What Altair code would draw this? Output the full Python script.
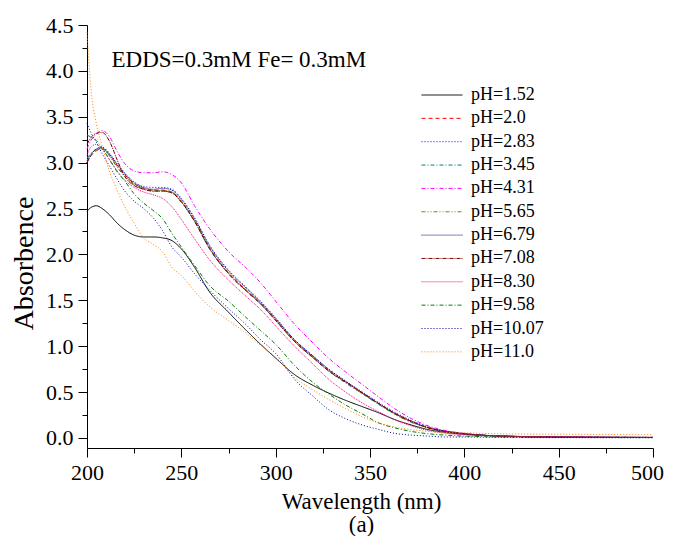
import altair as alt
import pandas as pd

FONT = "Liberation Serif, Times New Roman, serif"

wavelength = [200, 202, 205, 208, 212, 216, 220, 225, 230, 235, 240, 245, 250, 257, 265,
              275, 285, 292, 300, 310, 320, 328, 337, 346, 355, 363, 372, 381, 390, 400,
              420, 450, 500]

ph_labels = ["pH=1.52", "pH=2.0", "pH=2.83", "pH=3.45", "pH=4.31", "pH=5.65",
             "pH=6.79", "pH=7.08", "pH=8.30", "pH=9.58", "pH=10.07", "pH=11.0"]

ph152 = [2.47, 2.51, 2.53, 2.50, 2.43, 2.34, 2.27, 2.21, 2.19, 2.19, 2.18, 2.15, 2.06, 1.86, 1.59,
         1.37, 1.16, 1.02, 0.87, 0.69, 0.57, 0.49, 0.41, 0.34, 0.27, 0.20, 0.14, 0.09, 0.06, 0.04,
         0.02, 0.01, 0.005]
ph20 = [3.00, 3.07, 3.13, 3.15, 3.08, 2.97, 2.87, 2.77, 2.72, 2.70, 2.70, 2.68, 2.58, 2.37, 2.07,
        1.80, 1.60, 1.47, 1.29, 1.06, 0.88, 0.74, 0.61, 0.49, 0.37, 0.27, 0.18, 0.11, 0.07, 0.045,
        0.02, 0.01, 0.005]
ph283 = [3.00, 3.08, 3.15, 3.17, 3.10, 2.99, 2.89, 2.79, 2.74, 2.73, 2.73, 2.71, 2.61, 2.40, 2.10,
         1.83, 1.63, 1.49, 1.31, 1.07, 0.89, 0.75, 0.62, 0.50, 0.38, 0.28, 0.19, 0.12, 0.075, 0.045,
         0.02, 0.01, 0.005]
ph345 = [3.05, 3.10, 3.14, 3.15, 3.07, 2.95, 2.85, 2.76, 2.71, 2.69, 2.69, 2.67, 2.57, 2.36, 2.06,
         1.79, 1.59, 1.46, 1.28, 1.05, 0.87, 0.73, 0.60, 0.48, 0.36, 0.26, 0.17, 0.11, 0.07, 0.045,
         0.02, 0.01, 0.005]
ph431 = [3.15, 3.24, 3.31, 3.35, 3.28, 3.12, 2.99, 2.91, 2.89, 2.89, 2.90, 2.87, 2.78, 2.53, 2.28,
         2.03, 1.84, 1.69, 1.49, 1.24, 1.03, 0.87, 0.72, 0.58, 0.44, 0.32, 0.21, 0.13, 0.08, 0.05,
         0.02, 0.01, 0.005]
ph565 = [3.02, 3.09, 3.14, 3.15, 3.08, 2.96, 2.86, 2.77, 2.72, 2.70, 2.70, 2.68, 2.58, 2.37, 2.07,
         1.80, 1.60, 1.47, 1.29, 1.06, 0.88, 0.74, 0.61, 0.48, 0.36, 0.26, 0.17, 0.11, 0.07, 0.045,
         0.02, 0.01, 0.005]
ph679 = [3.00, 3.08, 3.15, 3.16, 3.09, 2.98, 2.88, 2.78, 2.73, 2.71, 2.72, 2.70, 2.60, 2.39, 2.09,
         1.82, 1.62, 1.48, 1.30, 1.07, 0.89, 0.75, 0.62, 0.49, 0.37, 0.27, 0.18, 0.11, 0.07, 0.045,
         0.02, 0.01, 0.005]
ph708 = [3.20, 3.27, 3.32, 3.33, 3.23, 3.03, 2.85, 2.75, 2.71, 2.69, 2.69, 2.67, 2.57, 2.36, 2.06,
         1.79, 1.59, 1.46, 1.28, 1.05, 0.87, 0.73, 0.61, 0.49, 0.37, 0.27, 0.18, 0.11, 0.07, 0.045,
         0.02, 0.01, 0.005]
ph830 = [3.08, 3.17, 3.20, 3.15, 3.03, 2.91, 2.81, 2.73, 2.68, 2.65, 2.61, 2.52, 2.38, 2.17, 1.94,
         1.72, 1.53, 1.40, 1.22, 1.00, 0.80, 0.64, 0.50, 0.38, 0.28, 0.20, 0.13, 0.08, 0.05, 0.035,
         0.02, 0.01, 0.005]
ph958 = [3.30, 3.28, 3.24, 3.16, 3.03, 2.90, 2.80, 2.66, 2.56, 2.48, 2.39, 2.23, 2.08, 1.88, 1.66,
         1.49, 1.30, 1.17, 1.02, 0.79, 0.60, 0.48, 0.36, 0.26, 0.16, 0.11, 0.07, 0.045, 0.03, 0.02,
         0.01, 0.005, 0.003]
ph1007 = [3.43, 3.33, 3.22, 3.10, 2.96, 2.82, 2.69, 2.58, 2.50, 2.40, 2.26, 2.08, 1.97, 1.79, 1.61,
          1.41, 1.22, 1.07, 0.92, 0.64, 0.45, 0.31, 0.21, 0.14, 0.09, 0.05, 0.03, 0.02, 0.01, 0.01,
          0.005, 0.003, 0.002]
ph110 = [4.42, 3.83, 3.42, 3.18, 2.90, 2.70, 2.52, 2.34, 2.18, 2.11, 2.03, 1.86, 1.77, 1.60, 1.43,
         1.28, 1.13, 1.01, 0.88, 0.66, 0.52, 0.42, 0.32, 0.23, 0.16, 0.12, 0.09, 0.07, 0.06, 0.055,
         0.045, 0.04, 0.035]

series = [ph152, ph20, ph283, ph345, ph431, ph565, ph679, ph708, ph830, ph958, ph1007, ph110]

colors = ["#000000", "#FF0000", "#0000FF", "#008080", "#FF00FF", "#808000",
          "#000080", "#800000", "#FF0080", "#008000", "#0000A0", "#FF8000"]
dashes = [[1, 0], [4, 3], [1, 2], [4, 2, 1, 2], [4, 2, 1, 2], [4, 2, 1, 2, 1, 2],
          [1, 1], [4, 1, 1, 1], [1, 1], [4, 2, 1, 2], [1, 2], [1, 2]]

x_major = [200, 250, 300, 350, 400, 450, 500]
x_minor = [225, 275, 325, 375, 425, 475]
y_major = [0, 0.5, 1.0, 1.5, 2.0, 2.5, 3.0, 3.5, 4.0, 4.5]
y_minor = [0.25, 0.75, 1.25, 1.75, 2.25, 2.75, 3.25, 3.75, 4.25]

note_text = ["EDDS=0.3mM Fe= 0.3mM"]
note_x = [213.0]
note_y = [4.04]

rows = []
for lab, vals in zip(ph_labels, series):
    for w, a in zip(wavelength, vals):
        rows.append({"wl": w, "absb": a, "ph": lab})
df = pd.DataFrame(rows)
note_df = pd.DataFrame({"wl": note_x, "absb": note_y, "t": note_text})

x_scale = alt.Scale(domain=[200, 500], nice=False, zero=False)
y_scale = alt.Scale(domain=[-0.11, 4.5], nice=False, zero=False)

legend = alt.Legend(
    title=None, orient="none", legendX=346, legendY=61,
    symbolType="M-3,0H3", symbolSize=187, symbolStrokeWidth=1,
    labelFont=FONT, labelFontSize=18, labelColor="black", labelOffset=20,
    rowPadding=5.35, padding=0,
)

common_axis = dict(
    labelFont=FONT, labelFontSize=22, labelColor="black", domainColor="black",
    tickColor="black", grid=False, domainWidth=1, tickWidth=1,
    titleFont=FONT, titleFontWeight="normal", titleColor="black",
)

lines = alt.Chart(df).mark_line(strokeWidth=1, interpolate="monotone").encode(
    x=alt.X("wl:Q", scale=x_scale, axis=alt.Axis(
        orient="bottom", values=x_major, tickSize=9, labelPadding=5, labelFlush=False,
        labelOffset={"condition": {"test": "datum.value == 500", "value": -6}, "value": 0},
        title=["Wavelength (nm)", "(a)"], titleFontSize=23, titleX=274, titleY=60,
        titleAlign="center", titleBaseline="alphabetic", titleLineHeight=23, **common_axis)),
    y=alt.Y("absb:Q", scale=y_scale, axis=alt.Axis(
        orient="left", values=y_major, format=".1f", tickSize=9, labelPadding=5,
        labelFlush=False, title="Absorbence", titleFontSize=28, titleX=-63, titleY=238,
        titleAngle=270, titleAlign="center", titleBaseline="middle", **common_axis)),
    color=alt.Color("ph:N", scale=alt.Scale(domain=ph_labels, range=colors), legend=legend),
    strokeDash=alt.StrokeDash("ph:N", scale=alt.Scale(domain=ph_labels, range=dashes), legend=legend),
)

note = alt.Chart(note_df).mark_text(
    align="left", baseline="alphabetic", font=FONT, fontSize=23, color="black"
).encode(
    x=alt.X("wl:Q", scale=x_scale, axis=alt.Axis(
        orient="bottom", values=x_minor, tickSize=5, labels=False, domain=False,
        grid=False, title="", tickColor="black", tickWidth=1)),
    y=alt.Y("absb:Q", scale=y_scale, axis=alt.Axis(
        orient="left", values=y_minor, tickSize=5, labels=False, domain=False,
        grid=False, title="", tickColor="black", tickWidth=1)),
    text="t:N",
)

chart = alt.layer(lines, note).resolve_axis(x="independent", y="independent").properties(
    width=566, height=423,
    padding={"left": 79, "top": 17, "right": 12, "bottom": 88},
    autosize=alt.AutoSizeParams(type="none"),
).configure_view(stroke="transparent")

chart.save("out.html", embed_options={"renderer": "svg", "actions": False})
